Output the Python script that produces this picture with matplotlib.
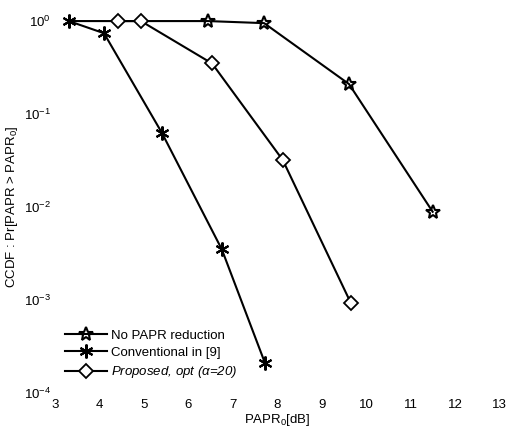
import numpy as np
import matplotlib
matplotlib.use('Agg')
import matplotlib.pyplot as plt

plt.rcParams['font.family'] = ['Liberation Sans', 'DejaVu Sans']
plt.rcParams['mathtext.default'] = 'regular'
plt.rcParams['axes.unicode_minus'] = False

# data
x_no = [3.31, 6.44, 7.70, 9.61, 11.49]
y_no = [1.0, 1.0, 0.95, 0.21, 0.0089]

x_conv = [3.31, 4.10, 5.40, 6.75, 7.72]
y_conv = [1.0, 0.74, 0.063, 0.0035, 0.00021]

x_prop = [4.42, 4.93, 6.53, 8.12, 9.65]
y_prop = [1.0, 1.0, 0.35, 0.032, 0.00093]

xticks = list(range(3, 14))

fig = plt.figure(figsize=(5.1, 4.3), dpi=100)
ax = fig.add_axes([0.108, 0.086, 0.872, 0.865])

ax.semilogy(x_no, y_no, '-', color='k', lw=1.5, marker='*', ms=10,
            mfc='none', mew=1.5, markevery=[1, 2, 3, 4], clip_on=False,
            label='No PAPR reduction')
ax.semilogy(x_conv, y_conv, '-', color='k', lw=1.5, marker=(6, 2, 0), ms=10,
            mew=1.5, clip_on=False, label='Conventional in [9]')
ax.semilogy(x_prop, y_prop, '-', color='k', lw=1.5, marker='D', ms=7,
            mfc='white', mew=1.3, clip_on=False, label=r'Proposed, opt ($\alpha$=20)')

ax.set_xlim(3, 13)
ax.set_ylim(1e-4, 1)
ax.set_xticks(xticks)
ax.set_yticks([1e-4, 1e-3, 1e-2, 1e-1, 1])
ax.minorticks_off()
ax.tick_params(length=0, labelsize=9.5, pad=4)
ax.tick_params(axis='y', pad=3)
for s in ax.spines.values():
    s.set_visible(False)

ax.set_xlabel(r'PAPR$_0$[dB]', fontsize=9.5, labelpad=1)
ax.set_ylabel(r'CCDF : Pr[PAPR > PAPR$_0$]', fontsize=9.5)
ax.yaxis.set_label_coords(-0.078, 0.5)

leg = ax.legend(loc='lower left', bbox_to_anchor=(0.01, 0.02), frameon=False,
                fontsize=9.5, handlelength=3.2, handletextpad=0.3,
                labelspacing=0.4, borderaxespad=0)
leg.get_texts()[2].set_fontstyle('italic')

fig.savefig('out.png', dpi=100)
